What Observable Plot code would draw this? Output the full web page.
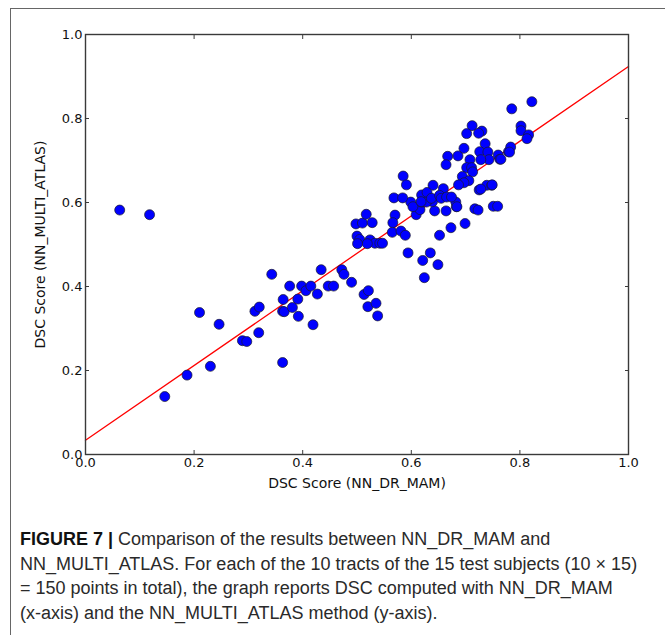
<!DOCTYPE html>
<html>
<head>
<meta charset="utf-8">
<script src="https://cdn.jsdelivr.net/npm/d3@7"></script>
<script src="https://cdn.jsdelivr.net/npm/@observablehq/plot@0.6"></script>
<style>
  html, body { margin: 0; padding: 0; background: #fff; overflow: hidden; width: 665px; height: 635px; }
  #wrap { position: relative; width: 665px; height: 635px; }
  #frame { position: absolute; left: 10px; top: 8px; width: 700px; height: 700px;
           border-left: 1.5px solid #666; border-top: 1.5px solid #666; }
  #chart { position: absolute; left: 0; top: 0; }
  #caption { position: absolute; left: 20px; top: 527px; font-family: "Liberation Sans", Arial, sans-serif;
             font-size: 18px; line-height: 24.5px; color: #2a2a2a; white-space: nowrap; }
  #caption b { font-weight: 700; color: #111; }
</style>
</head>
<body>
<div id="wrap">
  <div id="frame"></div>
  <div id="chart"></div>
  <div id="caption"></div>
</div>
<script>
// NN_DR_MAM (x) vs NN_MULTI_ATLAS (y) DSC scores
const dscDrMam = [
  0.063,0.118,0.146,0.187,0.210,0.230,0.246,0.289,0.297,0.319,
  0.312,0.320,0.343,0.363,0.364,0.363,0.366,0.376,0.391,0.381,
  0.392,0.398,0.406,0.415,0.419,0.427,0.434,0.447,0.457,0.472,
  0.476,0.490,0.513,0.521,0.520,0.535,0.538,0.498,0.510,0.528,
  0.500,0.505,0.501,0.524,0.533,0.519,0.542,0.517,0.570,0.566,
  0.565,0.581,0.589,0.547,0.594,0.621,0.635,0.649,0.624,0.652,
  0.673,0.699,0.609,0.616,0.643,0.664,0.683,0.717,0.723,0.751,
  0.759,0.599,0.603,0.619,0.639,0.682,0.736,0.726,0.741,0.760,
  0.779,0.743,0.763,0.728,0.667,0.686,0.708,0.664,0.702,0.711,
  0.713,0.694,0.706,0.697,0.687,0.585,0.591,0.640,0.659,0.739,
  0.748,0.725,0.568,0.584,0.619,0.629,0.628,0.618,0.637,0.652,
  0.655,0.665,0.674,0.684,0.822,0.785,0.802,0.802,0.816,0.813,
  0.783,0.781,0.765,0.730,0.712,0.702,0.724,0.697,0.749,0.728
];
const dscMultiAtlas = [
  0.582,0.571,0.138,0.189,0.338,0.210,0.310,0.271,0.269,0.290,
  0.341,0.351,0.429,0.219,0.369,0.341,0.340,0.401,0.370,0.350,
  0.329,0.401,0.390,0.401,0.309,0.382,0.440,0.401,0.401,0.440,
  0.429,0.410,0.381,0.390,0.352,0.360,0.330,0.549,0.551,0.552,
  0.520,0.512,0.502,0.511,0.503,0.502,0.503,0.572,0.570,0.552,
  0.529,0.532,0.522,0.503,0.480,0.462,0.480,0.452,0.421,0.522,
  0.540,0.550,0.571,0.583,0.580,0.580,0.590,0.585,0.582,0.591,
  0.591,0.601,0.590,0.601,0.602,0.601,0.740,0.721,0.720,0.713,
  0.721,0.702,0.703,0.702,0.710,0.711,0.702,0.690,0.683,0.683,
  0.673,0.662,0.652,0.647,0.642,0.663,0.642,0.641,0.633,0.641,
  0.641,0.630,0.611,0.611,0.618,0.624,0.601,0.602,0.610,0.617,
  0.610,0.613,0.613,0.590,0.840,0.823,0.782,0.771,0.761,0.752,
  0.732,0.720,0.703,0.770,0.783,0.764,0.765,0.729,0.642,0.632
];
// fitted line endpoints
const fitX = [0, 1];
const fitY = [0.034, 0.924];
const tickValues = [0, 0.2, 0.4, 0.6, 0.8, 1.0];
const xLabel = "DSC Score (NN_DR_MAM)";
const yLabel = "DSC Score (NN_MULTI_ATLAS)";
const captionBold = "FIGURE 7 |";
const captionLines = [
  " Comparison of the results between NN_DR_MAM and",
  "NN_MULTI_ATLAS. For each of the 10 tracts of the 15 test subjects (10 \u00d7 15)",
  "= 150 points in total), the graph reports DSC computed with NN_DR_MAM",
  "(x-axis) and the NN_MULTI_ATLAS method (y-axis)."
];

const points = dscDrMam.map((x, i) => ({x, y: dscMultiAtlas[i]}));
const fit = fitX.map((x, i) => ({x, y: fitY[i]}));
const fmt = d3.format(".1f");

const chart = Plot.plot({
  width: 665,
  height: 500,
  marginLeft: 85,
  marginRight: 37,
  marginTop: 34,
  marginBottom: 46,
  x: {domain: [0, 1]},
  y: {domain: [0, 1]},
  style: {fontFamily: "'DejaVu Sans', sans-serif", fontSize: "13px", background: "transparent", color: "#111"},
  marks: [
    Plot.line(fit, {x: "x", y: "y", stroke: "#ff0000", strokeWidth: 1.3}),
    Plot.dot(points, {x: "x", y: "y", r: 5, fill: "#0000ff", stroke: "#1a1a2a", strokeWidth: 0.7}),
    Plot.frame({stroke: "#3a3a3a", strokeWidth: 1.4}),
    Plot.axisX(tickValues, {anchor: "bottom", tickSize: -4, tickPadding: 7, tickFormat: fmt, label: null, fill: "#111", stroke: "#3a3a3a"}),
    Plot.axisX(tickValues, {anchor: "top", tickSize: -4, tickFormat: () => "", label: null, stroke: "#3a3a3a"}),
    Plot.axisY(tickValues, {anchor: "left", tickSize: -4, tickPadding: 7, tickFormat: fmt, label: null, fill: "#111", stroke: "#3a3a3a"}),
    Plot.axisY(tickValues, {anchor: "right", tickSize: -4, tickFormat: () => "", label: null, stroke: "#3a3a3a"}),
    Plot.text([xLabel], {frameAnchor: "bottom", dy: 33, fontSize: 14, fill: "#111"}),
    Plot.text([yLabel], {frameAnchor: "left", textAnchor: "middle", dx: -45, rotate: -90, fontSize: 14, fill: "#111"})
  ]
});
document.getElementById("chart").appendChild(chart);

const cap = document.getElementById("caption");
captionLines.forEach((line, i) => {
  const div = document.createElement("div");
  if (i === 0) {
    const b = document.createElement("b");
    b.textContent = captionBold;
    div.appendChild(b);
  }
  div.appendChild(document.createTextNode(line));
  cap.appendChild(div);
});
</script>
</body>
</html>
